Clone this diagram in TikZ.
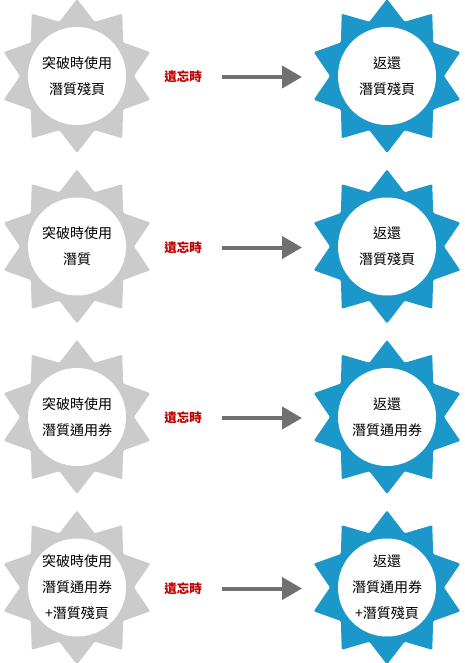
\documentclass[tikz,border=0pt]{standalone}
\usepackage{fontspec}
\setmainfont{Noto Sans CJK TC}
\usetikzlibrary{arrows.meta}
\definecolor{sungray}{HTML}{CBCBCB}
\definecolor{sunblue}{HTML}{1B98C9}
\definecolor{arrgray}{HTML}{707070}
\definecolor{lblred}{HTML}{C00000}
\begin{document}
\begin{tikzpicture}[x=1pt,y=-1pt,
 sun/.style={rounded corners=1.2pt},
 disc/.style={circle, fill=white, minimum size=98pt, inner sep=0pt, align=center, font=\fontsize{14pt}{26pt}\selectfont, text=black},
 lbl/.style={font=\fontsize{12.5pt}{15pt}\selectfont\bfseries, text=lblred},
 arr/.style={line width=4pt, draw=arrgray, -{Triangle[length=20pt,width=22pt]}}]
\useasboundingbox[fill=white] (0,0) rectangle (464,663);
\foreach \i/\y/\lt/\rt in {
 1/76/{突破時使用\\潛質殘頁}/{返還\\潛質殘頁},
 2/246.5/{突破時使用\\潛質}/{返還\\潛質殘頁},
 3/417/{突破時使用\\潛質通用券}/{返還\\潛質通用券},
 4/587.5/{突破時使用\\潛質通用券\\+潛質殘頁}/{返還\\潛質通用券\\+潛質殘頁}} {
  \fill[sun, sungray, shift={(77,\y)}] (90:77) \foreach \k in {0,...,9} { -- (108+\k*36:57) -- (126+\k*36:77) } -- cycle;
  \node[disc] (Lt\i) at (77,\y) {\lt};
  \fill[sun, sunblue, shift={(387,\y)}] (90:77) \foreach \k in {0,...,9} { -- (108+\k*36:57) -- (126+\k*36:77) } -- cycle;
  \node[disc] (Rt\i) at (387,\y) {\rt};
  \node[lbl] (lab\i) at (183,\y+1) {遺忘時};
  \coordinate (as\i) at (222,\y+1);
  \coordinate (ae\i) at (302,\y+1);
  \draw[arr] (as\i) -- (ae\i);
}
\end{tikzpicture}
\end{document}
